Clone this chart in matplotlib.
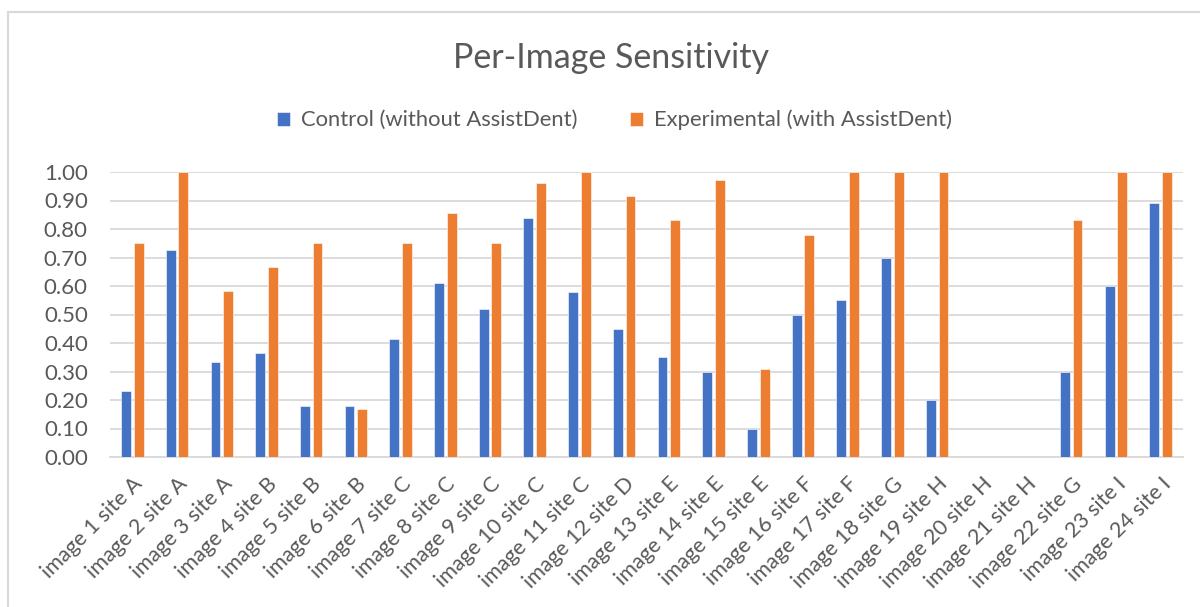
import numpy as np
import matplotlib
matplotlib.use("Agg")
import matplotlib.pyplot as plt
from matplotlib.patches import Rectangle

plt.rcParams['font.family'] = ['Lato', 'DejaVu Sans']

# --- data ---
labels = [
    "image 1 site A", "image 2 site A", "image 3 site A", "image 4 site B",
    "image 5 site B", "image 6 site B", "image 7 site C", "image 8 site C",
    "image 9 site C", "image 10 site C", "image 11 site C", "image 12 site D",
    "image 13 site E", "image 14 site E", "image 15 site E", "image 16 site F",
    "image 17 site F", "image 18 site G", "image 19 site H", "image 20 site H",
    "image 21 site H", "image 22 site G", "image 23 site I", "image 24 site I",
]
control = [0.23, 0.727, 0.333, 0.364, 0.18, 0.18, 0.414, 0.61,
           0.52, 0.839, 0.58, 0.45, 0.35, 0.30, 0.10, 0.50,
           0.55, 0.70, 0.20, np.nan, np.nan, 0.30, 0.60, 0.89]
experimental = [0.75, 1.00, 0.583, 0.667, 0.75, 0.167, 0.75, 0.857,
                0.75, 0.962, 1.00, 0.917, 0.833, 0.972, 0.31, 0.778,
                1.00, 1.00, 1.00, np.nan, np.nan, 0.833, 1.00, 1.00]
series_names = ["Control (without AssistDent)", "Experimental (with AssistDent)"]

BLUE = "#4472C4"
ORANGE = "#ED7D31"
TXT = "#595959"
GRID = "#D9D9D9"

fig = plt.figure(figsize=(12, 6.07), dpi=100)
ax = fig.add_axes([110/1200, 1 - 457/607, (1183-110)/1200, (457-172)/607])

# chart border like the excel frame
fig.patches.append(Rectangle((8/1200, -0.1), 1.2, 1 - 12/607 + 0.1,
                             transform=fig.transFigure, fill=False,
                             edgecolor="#D9D9D9", linewidth=1.5))

x = np.arange(len(labels))
w = 0.22
ax.bar(x - 0.142, control, w, color=BLUE, label=series_names[0], zorder=3,
       edgecolor="white", linewidth=0.4)
ax.bar(x + 0.142, experimental, w, color=ORANGE, label=series_names[1], zorder=3,
       edgecolor="white", linewidth=0.4)

ax.set_xlim(-0.5, len(labels) - 0.5)
ax.set_ylim(0, 1.0)
ax.set_yticks(np.arange(0, 1.01, 0.1))
ax.set_yticklabels([f"{v:.2f}" for v in np.arange(0, 1.01, 0.1)])
ax.yaxis.grid(True, color=GRID, linewidth=1.3, zorder=0)
ax.set_axisbelow(True)
for s in ["top", "right", "left"]:
    ax.spines[s].set_visible(False)
ax.spines["bottom"].set_color(GRID)
ax.spines["bottom"].set_linewidth(1.3)
ax.tick_params(axis="both", length=0, colors=TXT)
ax.tick_params(axis="y", pad=16, labelsize=16)

ax.set_xticks(x)
ax.set_xticklabels(labels, rotation=45, ha="right", rotation_mode="anchor")
ax.tick_params(axis="x", pad=12, labelsize=15.5)

fig.text(0.509, 1 - 58/607, "Per-Image Sensitivity", ha="center", va="center",
         fontsize=24.5, color=TXT)
fig.legend(loc="center", bbox_to_anchor=(0.512, 1 - 120/607), ncol=2,
           frameon=False, fontsize=15.8, labelcolor=TXT, handlelength=0.6,
           handleheight=0.6, handletextpad=0.5, columnspacing=2.4)

fig.savefig("out.png", dpi=100)
